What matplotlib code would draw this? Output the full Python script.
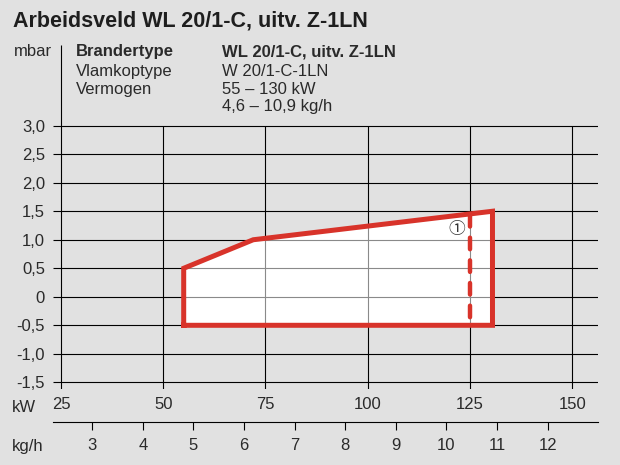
import matplotlib
matplotlib.use("Agg")
import matplotlib.pyplot as plt

# operating field of the burner (kW vs mbar)
field_kw = [55, 55, 72, 130.5, 130.5]
field_mbar = [-0.5, 0.5, 1.0, 1.5, -0.5]

# limit line (1) at 125 kW
limit_kw = [125, 125]
limit_mbar = [1.44, -0.5]

kw_ticks = [25, 50, 75, 100, 125, 150]
mbar_ticks = [3.0, 2.5, 2.0, 1.5, 1.0, 0.5, 0, -0.5, -1.0, -1.5]
mbar_labels = ["3,0", "2,5", "2,0", "1,5", "1,0", "0,5", "0", "-0,5", "-1,0", "-1,5"]
kgh_ticks = [3, 4, 5, 6, 7, 8, 9, 10, 11, 12]

title = "Arbeidsveld WL 20/1-C, uitv. Z-1LN"
info_keys = ["Brandertype", "Vlamkoptype", "Vermogen", ""]
info_vals = ["WL 20/1-C, uitv. Z-1LN", "W 20/1-C-1LN", "55 – 130 kW", "4,6 – 10,9 kg/h"]

BG = "#e1e1e1"
RED = "#d8332a"
TXT = "#2a2a2a"

plt.rcParams["font.family"] = ["Liberation Sans", "DejaVu Sans"]

W, H = 620, 465
fig = plt.figure(figsize=(6.2, 4.65), dpi=100, facecolor=BG)

# axes placed in pixel terms
left, right, top, bottom = 52.7, 598, 43, 389
ax = fig.add_axes([left / W, 1 - bottom / H, (right - left) / W, (bottom - top) / H])
ax.set_facecolor(BG)
ax.set_xlim(22.97, 156.3)
ax.set_ylim(-1.617, 4.45)
for s in ax.spines.values():
    s.set_visible(False)

# grid
ax.hlines(mbar_ticks, 22.97, 156.3, color="black", lw=0.8, zorder=1)
ax.vlines(kw_ticks[0], -1.617, 4.415, color="black", lw=0.8, zorder=1)
ax.vlines(kw_ticks[1:], -1.617, 3.0, color="black", lw=0.8, zorder=1)

# white field, grid shows through in grey
poly = ax.fill(field_kw, field_mbar, color="white", lw=0, zorder=2)[0]
g1 = ax.hlines(mbar_ticks, 22.97, 156.3, color="#8a8a8a", lw=0.8, zorder=3)
g2 = ax.vlines(kw_ticks, -1.617, 3.0, color="#8a8a8a", lw=0.8, zorder=3)
g1.set_clip_path(poly)
g2.set_clip_path(poly)

ax.plot(field_kw + field_kw[:1], field_mbar + field_mbar[:1], color=RED, lw=3.6,
        solid_joinstyle="miter", zorder=5)
ax.plot(limit_kw, limit_mbar, color=RED, lw=3.2, linestyle=(0, (2.6, 2.5)),
        dash_capstyle="round", zorder=4)
ax.text(121.7, 1.18, "①", family=["Noto Sans CJK SC", "DejaVu Sans"], fontsize=12,
        color="#333333", ha="center", va="center", zorder=6)

ax.set_yticks(mbar_ticks, labels=mbar_labels)
ax.set_xticks(kw_ticks, labels=[str(k) for k in kw_ticks])
ax.tick_params(axis="both", length=0, labelsize=12, labelcolor=TXT)
ax.tick_params(axis="y", pad=5.5)
ax.tick_params(axis="x", pad=5.6)

# kg/h scale below the kW scale
sec = ax.secondary_xaxis((bottom - 422.3) / (bottom - top),
                         functions=(lambda k: (k + 4.46) / 12.37, lambda g: g * 12.37 - 4.46))
sec.set_xticks(kgh_ticks, labels=[str(k) for k in kgh_ticks])
sec.tick_params(direction="out", length=6, width=0.8, labelsize=12, labelcolor=TXT, pad=5)
sec.spines["bottom"].set_linewidth(0.8)

def px(x, y):
    return x / W, 1 - y / H

fig.text(*px(13, 26.7), title, fontsize=15.5, fontweight="bold", color="#1e1e1e", va="baseline")
fig.text(*px(14, 56), "mbar", fontsize=12, color=TXT, va="baseline")
fig.text(*px(12, 411.7), "kW", fontsize=12, color=TXT, va="baseline")
fig.text(*px(12, 451), "kg/h", fontsize=12, color=TXT, va="baseline")

rows = [56, 76, 94, 111]
for i, (k, v) in enumerate(zip(info_keys, info_vals)):
    w = "bold" if i == 0 else "normal"
    fig.text(*px(76, rows[i]), k, fontsize=12, fontweight=w, color=TXT, va="baseline")
    fig.text(*px(221.7, rows[i]), v, fontsize=12, fontweight=w, color=TXT, va="baseline")

fig.savefig("out.png", dpi=100, facecolor=BG)
